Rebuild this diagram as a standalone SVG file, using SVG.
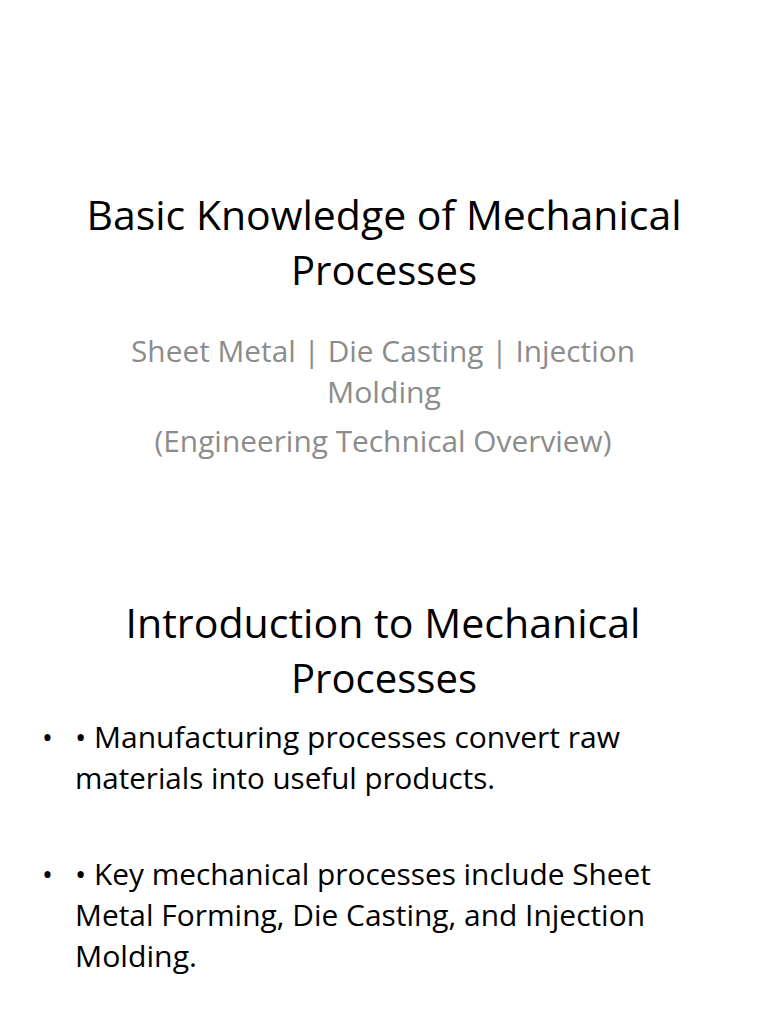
<svg xmlns="http://www.w3.org/2000/svg" width="768" height="1024" viewBox="0 0 768 1024">
<style>
text{font-family:"Open Sans","Liberation Sans",sans-serif;fill:#000}
.t{font-size:40px;text-anchor:middle}
.s{font-size:29px;text-anchor:middle;fill:#8c8c8c}
.b{font-size:29px}
</style>
<rect width="768" height="1024" fill="#fff"/>
<text class="t" x="384" y="230" textLength="595" lengthAdjust="spacingAndGlyphs">Basic Knowledge of Mechanical</text>
<text class="t" x="384" y="285" textLength="186" lengthAdjust="spacingAndGlyphs">Processes</text>
<text class="s" x="383" y="362" textLength="504" lengthAdjust="spacingAndGlyphs">Sheet Metal | Die Casting | Injection</text>
<text class="s" x="384" y="403" textLength="114" lengthAdjust="spacingAndGlyphs">Molding</text>
<text class="s" x="383" y="452" textLength="457" lengthAdjust="spacingAndGlyphs">(Engineering Technical Overview)</text>
<text class="t" x="383" y="638" textLength="515" lengthAdjust="spacingAndGlyphs">Introduction to Mechanical</text>
<text class="t" x="384" y="693" textLength="186" lengthAdjust="spacingAndGlyphs">Processes</text>
<text class="b" x="42" y="748">•</text>
<text class="b" x="75" y="748" textLength="545" lengthAdjust="spacingAndGlyphs">• Manufacturing processes convert raw</text>
<text class="b" x="75" y="789" textLength="420" lengthAdjust="spacingAndGlyphs">materials into useful products.</text>
<text class="b" x="42" y="885">•</text>
<text class="b" x="75" y="885" textLength="576" lengthAdjust="spacingAndGlyphs">• Key mechanical processes include Sheet</text>
<text class="b" x="75" y="926" textLength="570" lengthAdjust="spacingAndGlyphs">Metal Forming, Die Casting, and Injection</text>
<text class="b" x="75" y="967" textLength="122" lengthAdjust="spacingAndGlyphs">Molding.</text>
</svg>
